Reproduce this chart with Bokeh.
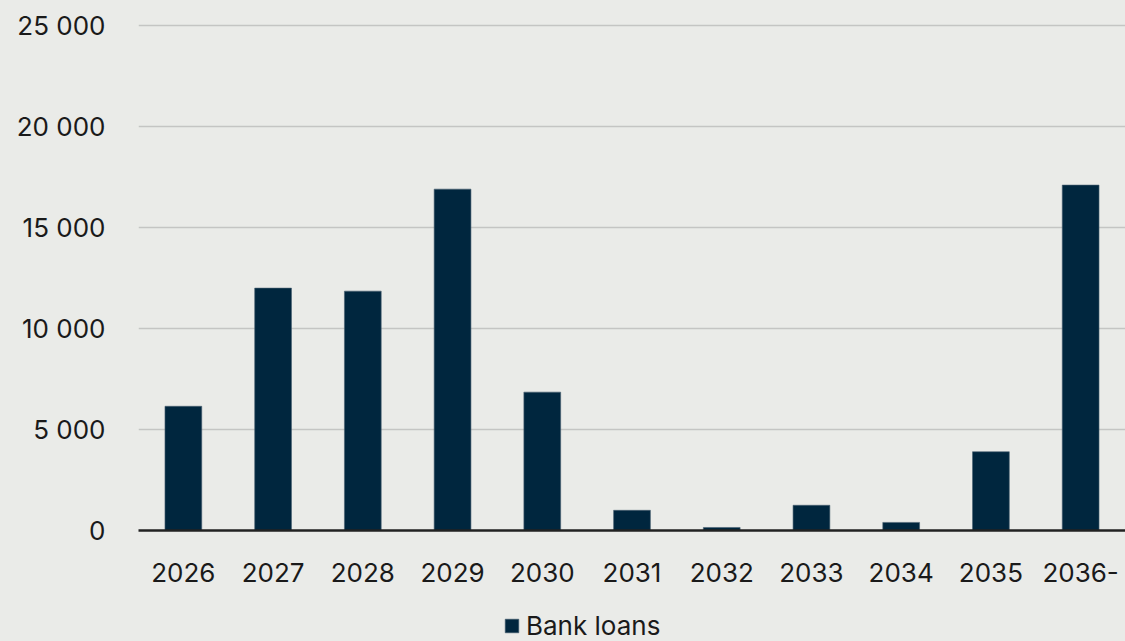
from bokeh.plotting import figure
from bokeh.models import FactorRange, Range1d, FixedTicker, Legend, LegendItem, ColumnDataSource
from bokeh.layouts import column
from bokeh.embed import file_html
from bokeh.resources import INLINE

years = ["2026", "2027", "2028", "2029", "2030", "2031", "2032", "2033", "2034", "2035", "2036-"]
bank_loans = [6150, 12000, 11850, 16900, 6850, 1000, 150, 1250, 400, 3900, 17100]
y_ticks = [0, 5000, 10000, 15000, 20000, 25000]
y_tick_labels = ["0", "5 000", "10 000", "15 000", "20 000", "25 000"]
series_name = "Bank loans"

BG = "#EAEBE8"
BAR = "#00263E"
FONT = "Inter"

src = ColumnDataSource(dict(x=years, y=bank_loans))

p = figure(width=1125, height=590, x_range=FactorRange(*years, range_padding=0),
           y_range=Range1d(0, 25100), output_backend="svg", toolbar_location=None,
           background_fill_color=BG, border_fill_color=BG, outline_line_color=None,
           min_border_left=138, min_border_right=0, min_border_top=23, min_border_bottom=60)

r = p.vbar(x="x", top="y", width=0.41, source=src, fill_color=BAR, line_color="#4A6272", line_width=0.6)

p.xgrid.grid_line_color = None
p.ygrid.grid_line_color = "#C4C5C3"
p.ygrid.grid_line_width = 1.5
p.ygrid.ticker = FixedTicker(ticks=y_ticks)

p.yaxis.ticker = FixedTicker(ticks=y_ticks)
p.yaxis.major_label_overrides = {t: l for t, l in zip(y_ticks, y_tick_labels)}
p.yaxis.axis_line_color = None
p.yaxis.major_tick_line_color = None
p.yaxis.minor_tick_line_color = None
p.yaxis.major_label_standoff = 27
p.yaxis.major_label_text_font = FONT
p.yaxis.major_label_text_font_size = "26px"
p.yaxis.major_label_text_color = "#1A1A1A"

p.xaxis.axis_line_color = "#222222"
p.xaxis.axis_line_width = 2.5
p.xaxis.major_tick_line_color = None
p.xaxis.minor_tick_line_color = None
p.xaxis.major_label_standoff = 26
p.xaxis.major_label_text_font = FONT
p.xaxis.major_label_text_font_size = "26px"
p.xaxis.major_label_text_color = "#1A1A1A"

# Legend strip below the chart (frame aligned with the main chart)
lp = figure(width=1125, height=51, x_range=Range1d(0, 1), y_range=Range1d(0, 1),
            output_backend="svg", toolbar_location=None, x_axis_type=None, y_axis_type=None,
            background_fill_color=BG, border_fill_color=BG, outline_line_color=None,
            min_border_left=138, min_border_right=0, min_border_top=0, min_border_bottom=0)
lp.xgrid.grid_line_color = None
lp.ygrid.grid_line_color = None
lsrc = ColumnDataSource(dict(x=[10.0], top=[1.0]))
lr = lp.vbar(x="x", top="top", width=0.4, source=lsrc, fill_color=BAR, line_color="#4A6272", line_width=0.6)

legend = Legend(items=[LegendItem(label=series_name, renderers=[lr])], location=(365, 0),
                orientation="horizontal", background_fill_color=BG, background_fill_alpha=0,
                border_line_color=None, label_text_font=FONT, label_text_font_size="26px",
                label_text_color="#1A1A1A", glyph_width=17, glyph_height=17, label_standoff=6,
                padding=0, margin=0, spacing=0)
lp.add_layout(legend, "center")

layout = column(p, lp, spacing=0, background=BG)
open("out.html", "w").write(file_html(layout, INLINE))
